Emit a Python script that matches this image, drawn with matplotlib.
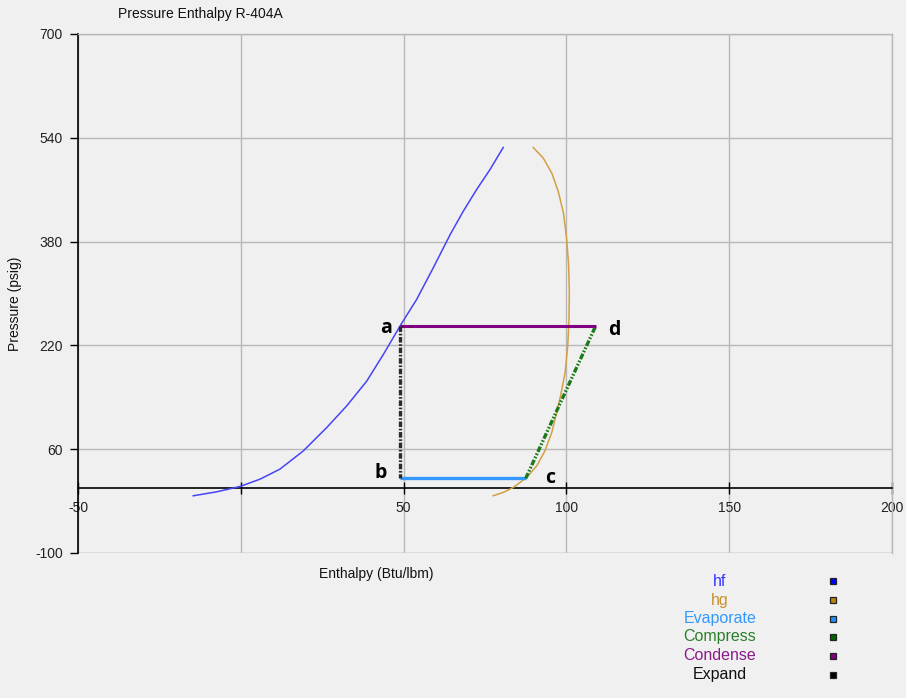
import matplotlib
matplotlib.use("Agg")
import matplotlib.pyplot as plt
from matplotlib.lines import Line2D

plt.rcParams['font.family'] = ['Liberation Sans', 'DejaVu Sans']
plt.rcParams['axes.unicode_minus'] = False
plt.rcParams['lines.scale_dashes'] = False

# Saturated liquid line (hf)
hf_h = [-14.6, -7.4, -0.2, 5.9, 12.0, 19.2, 26.4, 32.5, 38.7, 43.8, 49.2,
        54.0, 59.1, 64.3, 68.3, 72.4, 76.5, 80.6]
hf_p = [-11.8, -5.7, 2.6, 13.8, 29.2, 57.4, 93.4, 126.6, 165.1, 206.2, 252.3,
        290.8, 339.5, 390.8, 426.6, 460.0, 490.8, 525.1]

# Saturated vapour line (hg)
hg_h = [89.8, 92.9, 95.5, 97.5, 99.1, 100.1, 100.7, 100.9, 100.8, 100.4, 99.6,
        98.2, 97.0, 95.5, 93.4, 90.9, 87.8, 83.7, 80.6, 77.5]
hg_p = [525.1, 508.7, 485.7, 457.4, 424.1, 383.1, 342.0, 301.0, 260.0, 218.9, 178.0,
        142.0, 116.5, 85.7, 57.4, 34.3, 16.4, 1.1, -6.6, -11.8]

# Refrigeration cycle state points
point_names = ['a', 'b', 'c', 'd']
point_h = [49.0, 49.0, 87.5, 109.0]
point_p = [250.0, 15.0, 15.0, 250.0]

x_ticks = [-50, 0, 50, 100, 150, 200]
x_tick_labels = ['-50', '', '50', '100', '150', '200']
y_ticks = [-100, 60, 220, 380, 540, 700]

legend_names = ['hf', 'hg', 'Evaporate', 'Compress', 'Condense', 'Expand']
legend_text_colors = ['#3535ff', '#c8922c', '#3399ff', '#2a7f2a', '#8b1a8b', '#111111']
legend_marker_colors = ['#0000ff', '#b8860b', '#1e90ff', '#006400', '#800080', '#000000']

W, H = 906, 698
bg = '#f0f0f0'
fig = plt.figure(figsize=(W / 100, H / 100), dpi=100, facecolor=bg)
ax = fig.add_axes([78 / W, 1 - 553 / H, (892 - 78) / W, (553 - 34) / H], facecolor=bg)

ax.set_xlim(-50, 200)
ax.set_ylim(-100, 700)

grid_c = '#b8b8b8'
ax.set_xticks(x_ticks)
ax.set_xticklabels(x_tick_labels)
ax.set_yticks(y_ticks)
ax.grid(True, color=grid_c, linewidth=1.0, zorder=0)
ax.set_axisbelow(True)

for side in ['top', 'right']:
    ax.spines[side].set_color(grid_c)
    ax.spines[side].set_linewidth(1.0)
ax.spines['left'].set_color('black')
ax.spines['left'].set_linewidth(1.2)
ax.spines['bottom'].set_position(('data', 0))
ax.spines['bottom'].set_color('black')
ax.spines['bottom'].set_linewidth(1.2)
ax.axhline(-100, color=grid_c, linewidth=1.0, zorder=0)

ax.tick_params(axis='x', direction='inout', length=9, width=1.0, labelsize=10,
               pad=5, colors='black', labelcolor='#222222')
ax.tick_params(axis='y', direction='out', length=6, width=1.0, labelsize=10,
               pad=5, colors='black', labelcolor='#222222')

# Saturation lines
ax.plot(hf_h, hf_p, color='#4545f7', linewidth=1.1, zorder=3)
ax.plot(hg_h, hg_p, color='#d3a043', linewidth=1.1, zorder=3)

a, b, c, d = range(4)
# Evaporate b -> c
ax.plot([point_h[b], point_h[c]], [point_p[b], point_p[c]], color='#3399ff',
        linewidth=2.4, solid_capstyle='butt', zorder=4)
# Compress c -> d
ax.plot([point_h[c], point_h[d]], [point_p[c], point_p[d]], color='#1b7a1b',
        linewidth=2.4, dashes=(4.2, 1.3, 1.2, 1.3, 1.2, 1.3), zorder=4)
# Condense d -> a
ax.plot([point_h[d], point_h[a]], [point_p[d], point_p[a]], color='#800080',
        linewidth=2.2, solid_capstyle='butt', zorder=4)
# Expand a -> b
ax.plot([point_h[a], point_h[b]], [point_p[a], point_p[b]], color='#2b2b2b',
        linewidth=2.4, dashes=(4.0, 1.2, 1.2, 1.2), zorder=4)

offsets = {'a': (-8, -2, 'right'), 'b': (-13, 5, 'right'),
           'c': (19, 0, 'left'), 'd': (12, -4, 'left')}
for name, h, p in zip(point_names, point_h, point_p):
    dx, dy, ha = offsets[name]
    ax.annotate(name, (h, p), xytext=(dx, dy), textcoords='offset pixels',
                ha=ha, va='center', fontsize=14, fontweight='bold',
                family=['Open Sans', 'DejaVu Sans'], color='black', zorder=6)

fig.text(200 / W, 1 - 14 / H, 'Pressure Enthalpy R-404A', ha='center', va='center',
         fontsize=10, color='#111111')
fig.text(15 / W, 1 - 304 / H, 'Pressure (psig)', ha='center', va='center',
         rotation=90, fontsize=10, color='#111111')
fig.text(376 / W, 1 - 574 / H, 'Enthalpy (Btu/lbm)', ha='center', va='center',
         fontsize=10, color='#111111')

# Legend: coloured names with small square swatches
row_y = [581, 600, 619, 637, 656, 675]
for name, tc, mc, yy in zip(legend_names, legend_text_colors, legend_marker_colors, row_y):
    fig.text(720 / W, 1 - yy / H, name, ha='center', va='center', fontsize=11.5, color=tc)
    fig.add_artist(Line2D([833 / W], [1 - yy / H], marker='s', markersize=5,
                          markerfacecolor=mc, markeredgecolor='#222222',
                          markeredgewidth=0.9, linestyle='none',
                          transform=fig.transFigure))

fig.savefig('out.png', dpi=100, facecolor=bg)
